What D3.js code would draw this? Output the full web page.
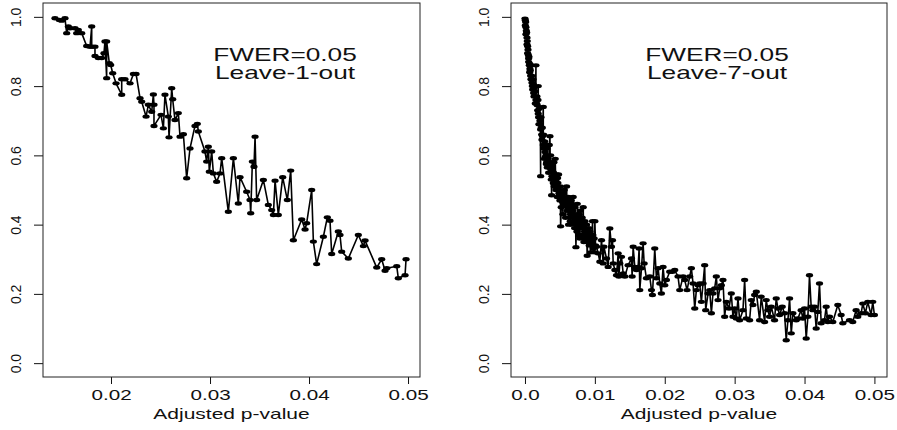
<!DOCTYPE html>
<html>
<head>
<meta charset="utf-8">
<script src="https://cdn.jsdelivr.net/npm/d3@7"></script>
<style>
  html, body { margin: 0; padding: 0; background: #fff; }
  svg { display: block; font-family: "Liberation Sans", Arial, Helvetica, sans-serif; }
</style>
</head>
<body>
<svg id="chart" width="897" height="430"></svg>
<script>
// Leave-1-out: adjusted p-value vs. rate, in plotting order
const loo1Pvalue = [
  0.01434, 0.01478, 0.01502, 0.01535, 0.01552, 0.01569, 0.01586, 0.01636, 0.01653, 0.01670,
  0.01704, 0.01754, 0.01788, 0.01805, 0.01805, 0.01838, 0.01838, 0.01872, 0.01906, 0.01929,
  0.01939, 0.01956, 0.01956, 0.01983, 0.01997, 0.02017, 0.02051, 0.02108, 0.02108, 0.02141,
  0.02192, 0.02226, 0.02253, 0.02293, 0.02310, 0.02354, 0.02377, 0.02411, 0.02428, 0.02434,
  0.02434, 0.02505, 0.02529, 0.02545, 0.02579, 0.02586, 0.02613, 0.02623, 0.02646, 0.02680,
  0.02697, 0.02731, 0.02764, 0.02798, 0.02848, 0.02872, 0.02882, 0.02949, 0.02966, 0.02983,
  0.02993, 0.03017, 0.03034, 0.03067, 0.03101, 0.03118, 0.03185, 0.03236, 0.03286, 0.03303,
  0.03370, 0.03404, 0.03411, 0.03428, 0.03444, 0.03455, 0.03471, 0.03539, 0.03589, 0.03623,
  0.03640, 0.03657, 0.03690, 0.03734, 0.03781, 0.03815, 0.03842, 0.03926, 0.03960, 0.03976,
  0.04027, 0.04044, 0.04077, 0.04145, 0.04185, 0.04212, 0.04229, 0.04296, 0.04313, 0.04330,
  0.04397, 0.04498, 0.04549, 0.04566, 0.04684, 0.04734, 0.04768, 0.04785, 0.04886, 0.04902,
  0.04970, 0.04980
];
const loo1Rate = [
  0.996, 0.991, 0.989, 0.996, 0.953, 0.972, 0.967, 0.967, 0.953, 0.962,
  0.953, 0.916, 0.914, 0.972, 0.914, 0.914, 0.887, 0.881, 0.881, 0.895,
  0.929, 0.823, 0.929, 0.866, 0.861, 0.837, 0.808, 0.775, 0.820, 0.820,
  0.808, 0.835, 0.835, 0.765, 0.755, 0.712, 0.746, 0.726, 0.776, 0.746,
  0.685, 0.717, 0.678, 0.775, 0.712, 0.652, 0.794, 0.762, 0.702, 0.722,
  0.654, 0.661, 0.534, 0.620, 0.685, 0.691, 0.669, 0.611, 0.582, 0.625,
  0.553, 0.611, 0.548, 0.524, 0.548, 0.592, 0.437, 0.592, 0.461, 0.537,
  0.495, 0.471, 0.433, 0.582, 0.567, 0.654, 0.471, 0.529, 0.457, 0.442,
  0.428, 0.527, 0.428, 0.537, 0.471, 0.556, 0.355, 0.415, 0.386, 0.404,
  0.500, 0.351, 0.286, 0.365, 0.421, 0.411, 0.315, 0.380, 0.370, 0.322,
  0.302, 0.370, 0.338, 0.354, 0.276, 0.300, 0.267, 0.274, 0.280, 0.245,
  0.254, 0.300
];

// Leave-7-out, steep part (p < 0.0102)
const loo7PvalueLow = [
  0.00000, 0.00005, 0.00010, 0.00005, 0.00014, 0.00019, 0.00014, 0.00024, 0.00029, 0.00033,
  0.00029, 0.00038, 0.00043, 0.00038, 0.00048, 0.00052, 0.00057, 0.00052, 0.00062, 0.00067,
  0.00071, 0.00067, 0.00076, 0.00081, 0.00086, 0.00090, 0.00095, 0.00100, 0.00105, 0.00110,
  0.00114, 0.00119, 0.00124, 0.00129, 0.00133, 0.00143, 0.00148, 0.00157, 0.00157, 0.00167,
  0.00171, 0.00176, 0.00181, 0.00186, 0.00190, 0.00190, 0.00195, 0.00200, 0.00205, 0.00214,
  0.00219, 0.00224, 0.00224, 0.00229, 0.00233, 0.00238, 0.00243, 0.00248, 0.00252, 0.00262,
  0.00262, 0.00267, 0.00271, 0.00276, 0.00281, 0.00286, 0.00290, 0.00295, 0.00300, 0.00305,
  0.00310, 0.00314, 0.00319, 0.00329, 0.00333, 0.00338, 0.00343, 0.00348, 0.00357, 0.00362,
  0.00367, 0.00371, 0.00376, 0.00381, 0.00386, 0.00390, 0.00395, 0.00405, 0.00410, 0.00414,
  0.00419, 0.00424, 0.00433, 0.00438, 0.00443, 0.00452, 0.00457, 0.00462, 0.00467, 0.00471,
  0.00481, 0.00486, 0.00490, 0.00500, 0.00505, 0.00510, 0.00519, 0.00524, 0.00529, 0.00538,
  0.00543, 0.00548, 0.00557, 0.00562, 0.00571, 0.00581, 0.00586, 0.00595, 0.00600, 0.00605,
  0.00614, 0.00619, 0.00624, 0.00633, 0.00643, 0.00648, 0.00652, 0.00662, 0.00667, 0.00676,
  0.00681, 0.00690, 0.00695, 0.00700, 0.00710, 0.00714, 0.00724, 0.00729, 0.00738, 0.00743,
  0.00748, 0.00757, 0.00762, 0.00771, 0.00776, 0.00786, 0.00790, 0.00795, 0.00805, 0.00810,
  0.00819, 0.00824, 0.00833, 0.00838, 0.00843, 0.00852, 0.00857, 0.00867, 0.00871, 0.00881,
  0.00886, 0.00890, 0.00900, 0.00905, 0.00914, 0.00919, 0.00929, 0.00933, 0.00938, 0.00948,
  0.00952, 0.00967, 0.00971, 0.00976, 0.00990, 0.00995, 0.01000, 0.01010
];
const loo7RateLow = [
  0.995, 0.990, 0.985, 0.975, 0.970, 0.960, 0.950, 0.955, 0.940, 0.930,
  0.920, 0.915, 0.905, 0.895, 0.890, 0.880, 0.885, 0.870, 0.860, 0.865,
  0.850, 0.840, 0.845, 0.830, 0.820, 0.860, 0.830, 0.810, 0.800, 0.790,
  0.820, 0.805, 0.780, 0.770, 0.795, 0.785, 0.750, 0.860, 0.760, 0.750,
  0.770, 0.745, 0.730, 0.760, 0.800, 0.720, 0.710, 0.690, 0.735, 0.700,
  0.690, 0.540, 0.675, 0.710, 0.680, 0.660, 0.645, 0.680, 0.655, 0.740,
  0.630, 0.660, 0.620, 0.590, 0.640, 0.610, 0.595, 0.630, 0.600, 0.575,
  0.580, 0.620, 0.565, 0.590, 0.600, 0.550, 0.575, 0.630, 0.655, 0.570,
  0.600, 0.560, 0.530, 0.485, 0.540, 0.580, 0.555, 0.520, 0.550, 0.580,
  0.510, 0.530, 0.590, 0.540, 0.500, 0.545, 0.505, 0.480, 0.535, 0.520,
  0.545, 0.490, 0.500, 0.470, 0.510, 0.395, 0.450, 0.490, 0.480, 0.465,
  0.430, 0.490, 0.460, 0.500, 0.470, 0.420, 0.455, 0.510, 0.470, 0.440,
  0.450, 0.480, 0.400, 0.470, 0.450, 0.410, 0.430, 0.470, 0.460, 0.400,
  0.440, 0.480, 0.450, 0.420, 0.390, 0.450, 0.410, 0.335, 0.420, 0.380,
  0.460, 0.430, 0.400, 0.370, 0.430, 0.360, 0.400, 0.440, 0.410, 0.390,
  0.420, 0.370, 0.450, 0.400, 0.350, 0.380, 0.410, 0.360, 0.380, 0.400,
  0.350, 0.310, 0.370, 0.360, 0.390, 0.340, 0.380, 0.350, 0.320, 0.360,
  0.340, 0.410, 0.370, 0.330, 0.360, 0.320, 0.410, 0.340
];

// Leave-7-out, flat part (p >= 0.0102)
const loo7PvalueHigh = [
  0.01024, 0.01048, 0.01071, 0.01095, 0.01119, 0.01129, 0.01167, 0.01190, 0.01214, 0.01238,
  0.01252, 0.01262, 0.01286, 0.01310, 0.01333, 0.01343, 0.01357, 0.01381, 0.01405, 0.01429,
  0.01476, 0.01524, 0.01533, 0.01548, 0.01571, 0.01595, 0.01619, 0.01633, 0.01643, 0.01667,
  0.01690, 0.01705, 0.01738, 0.01786, 0.01810, 0.01824, 0.01857, 0.01881, 0.01905, 0.01929,
  0.01952, 0.01976, 0.02000, 0.02024, 0.02071, 0.02110, 0.02143, 0.02190, 0.02214, 0.02262,
  0.02286, 0.02319, 0.02357, 0.02381, 0.02405, 0.02429, 0.02452, 0.02476, 0.02500, 0.02524,
  0.02548, 0.02571, 0.02586, 0.02619, 0.02643, 0.02667, 0.02690, 0.02714, 0.02738, 0.02762,
  0.02786, 0.02810, 0.02833, 0.02857, 0.02881, 0.02919, 0.02952, 0.02976, 0.03000, 0.03024,
  0.03048, 0.03071, 0.03119, 0.03143, 0.03167, 0.03214, 0.03238, 0.03262, 0.03286, 0.03310,
  0.03357, 0.03381, 0.03429, 0.03452, 0.03476, 0.03500, 0.03524, 0.03571, 0.03595, 0.03619,
  0.03643, 0.03681, 0.03714, 0.03738, 0.03762, 0.03786, 0.03810, 0.03833, 0.03881, 0.03905,
  0.03952, 0.03976, 0.04000, 0.04024, 0.04048, 0.04071, 0.04095, 0.04119, 0.04143, 0.04167,
  0.04190, 0.04214, 0.04238, 0.04286, 0.04310, 0.04333, 0.04357, 0.04405, 0.04476, 0.04524,
  0.04548, 0.04643, 0.04690, 0.04738, 0.04762, 0.04810, 0.04833, 0.04871, 0.04905, 0.04952,
  0.04976, 0.05000
];
const loo7RateHigh = [
  0.336, 0.317, 0.293, 0.355, 0.288, 0.336, 0.302, 0.278, 0.389, 0.336,
  0.355, 0.288, 0.269, 0.254, 0.317, 0.250, 0.288, 0.307, 0.259, 0.250,
  0.283, 0.302, 0.250, 0.336, 0.278, 0.269, 0.278, 0.331, 0.211, 0.274,
  0.346, 0.288, 0.245, 0.250, 0.211, 0.197, 0.331, 0.245, 0.274, 0.230,
  0.201, 0.278, 0.225, 0.240, 0.264, 0.264, 0.269, 0.250, 0.211, 0.250,
  0.240, 0.211, 0.250, 0.274, 0.230, 0.158, 0.211, 0.225, 0.230, 0.177,
  0.230, 0.283, 0.153, 0.201, 0.211, 0.144, 0.201, 0.216, 0.250, 0.182,
  0.216, 0.225, 0.240, 0.134, 0.177, 0.158, 0.201, 0.134, 0.158, 0.129,
  0.187, 0.124, 0.153, 0.240, 0.129, 0.124, 0.182, 0.168, 0.197, 0.206,
  0.124, 0.192, 0.119, 0.182, 0.153, 0.134, 0.163, 0.124, 0.187, 0.158,
  0.139, 0.163, 0.144, 0.066, 0.124, 0.187, 0.086, 0.144, 0.124, 0.129,
  0.153, 0.129, 0.158, 0.071, 0.134, 0.254, 0.163, 0.153, 0.163, 0.100,
  0.148, 0.230, 0.115, 0.124, 0.163, 0.119, 0.134, 0.119, 0.168, 0.139,
  0.115, 0.124, 0.119, 0.153, 0.134, 0.144, 0.172, 0.144, 0.177, 0.139,
  0.177, 0.139
];

const yTickValues = [0, 0.2, 0.4, 0.6, 0.8, 1.0];
const yTickLabels = ["0.0", "0.2", "0.4", "0.6", "0.8", "1.0"];
const loo1TickValues = [0.02, 0.03, 0.04, 0.05];
const loo1TickLabels = ["0.02", "0.03", "0.04", "0.05"];
const loo7TickValues = [0, 0.01, 0.02, 0.03, 0.04, 0.05];
const loo7TickLabels = ["0.0", "0.01", "0.02", "0.03", "0.04", "0.05"];
const xTitle = "Adjusted p-value";
const fwerLabel = "FWER=0.05";

const svg = d3.select("#chart");
const plotTop = 3, plotBottom = 377;
const stretch = 1.5;   // horizontal text stretch of the output device

const panels = [
  { pv: loo1Pvalue, rate: loo1Rate, left: 43, right: 420, domain: [0.01313, 0.05121],
    ticks: loo1TickValues, tickLabels: loo1TickLabels, note: "Leave-1-out", noteX: 285 },
  { pv: loo7PvalueLow.concat(loo7PvalueHigh), rate: loo7RateLow.concat(loo7RateHigh),
    left: 511, right: 887, domain: [-0.002, 0.0518],
    ticks: loo7TickValues, tickLabels: loo7TickLabels, note: "Leave-7-out", noteX: 717 }
];

panels.forEach(p => {
  const x = d3.scaleLinear().domain(p.domain).range([p.left, p.right]);
  const y = d3.scaleLinear().domain([-0.04, 1.04]).range([plotBottom, plotTop]);
  const g = svg.append("g");

  // x axis
  const xa = g.append("g")
    .attr("transform", `translate(0,${plotBottom})`)
    .call(d3.axisBottom(x).tickValues(p.ticks).tickSize(7)
      .tickFormat((d, i) => p.tickLabels[i]));
  xa.select(".domain").remove();
  xa.selectAll(".tick line").attr("stroke", "#111").attr("stroke-width", 1);
  xa.selectAll(".tick text")
    .attr("y", 23.5).attr("dy", null)
    .attr("fill", "#111")
    .style("font-size", "14.5px")
    .attr("transform", `scale(${stretch * 0.95},1)`);

  // y axis
  const ya = g.append("g")
    .attr("transform", `translate(${p.left},0)`)
    .call(d3.axisLeft(y).tickValues(yTickValues).tickSize(9)
      .tickFormat((d, i) => yTickLabels[i]));
  ya.select(".domain").remove();
  ya.selectAll(".tick line").attr("stroke", "#111").attr("stroke-width", 1);
  ya.selectAll(".tick text")
    .attr("x", 0).attr("y", -20).attr("dy", null)
    .attr("text-anchor", "middle")
    .attr("transform", "rotate(-90) scale(1,1.1)")
    .attr("fill", "#111")
    .style("font-size", "14px");

  // plot frame
  g.append("rect")
    .attr("x", p.left).attr("y", plotTop)
    .attr("width", p.right - p.left).attr("height", plotBottom - plotTop)
    .attr("fill", "none").attr("stroke", "#222").attr("stroke-width", 1);

  // axis title
  const cx = (p.left + p.right) / 2;
  g.append("text")
    .attr("transform", `translate(${cx},419) scale(${stretch},1)`)
    .attr("text-anchor", "middle")
    .style("font-size", "14px")
    .attr("fill", "#111")
    .text(xTitle);

  // annotation
  [fwerLabel, p.note].forEach((t, i) => {
    g.append("text")
      .attr("transform", `translate(${p.noteX},${61 + i * 18}) scale(${stretch},1)`)
      .attr("text-anchor", "middle")
      .style("font-size", "17.5px")
      .attr("fill", "#111")
      .text(t);
  });

  // series
  const pts = p.pv.map((v, i) => [v, p.rate[i]]);
  g.append("path")
    .datum(pts)
    .attr("fill", "none")
    .attr("stroke", "#000")
    .attr("stroke-width", 1.6)
    .attr("stroke-linejoin", "round")
    .attr("d", d3.line().x(d => x(d[0])).y(d => y(d[1])));
  g.append("g").selectAll("ellipse")
    .data(pts)
    .join("ellipse")
    .attr("cx", d => x(d[0]))
    .attr("cy", d => y(d[1]))
    .attr("rx", 3.6)
    .attr("ry", 2.2)
    .attr("fill", "#000");
});
</script>
</body>
</html>
